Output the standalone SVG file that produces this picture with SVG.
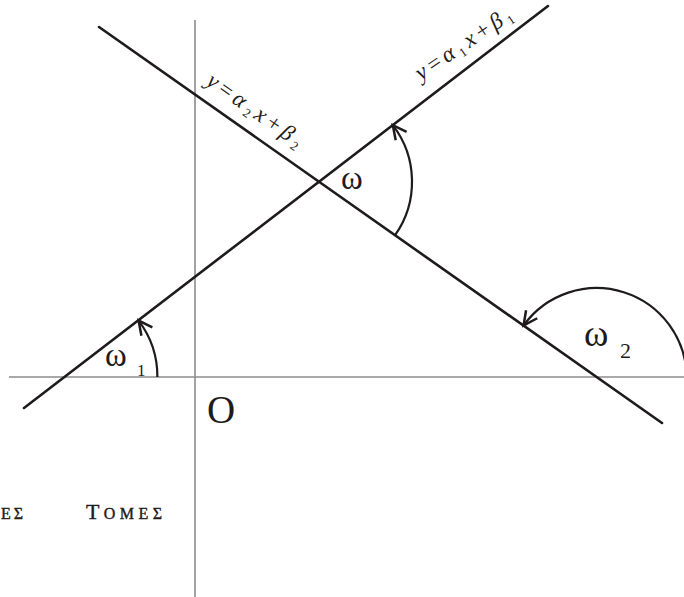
<svg xmlns="http://www.w3.org/2000/svg" width="684" height="597" viewBox="0 0 684 597">
<style>
.axis{stroke:#8c8c8c;stroke-width:1.6;fill:none}
.line{stroke:#1f1b1c;stroke-width:2.6;fill:none;stroke-linecap:round}
.arc{stroke:#1f1b1c;stroke-width:2.2;fill:none;marker-end:url(#arr)}
.t{font-family:"Liberation Serif","Times New Roman",serif;fill:#1f1b1c}
.lbl{font-family:"Liberation Serif","Times New Roman",serif;font-style:italic;fill:#1f1b1c;font-size:23px}
.sub{font-size:13px;font-style:normal}
.cap{font-family:"Liberation Serif","Times New Roman",serif;fill:#1f1b1c;stroke:#1f1b1c;stroke-width:0.4}
</style>
<defs>
<marker id="arr" markerUnits="userSpaceOnUse" markerWidth="20" markerHeight="20" refX="0" refY="0" viewBox="-14 -8 16 16" orient="auto" overflow="visible">
<path d="M -11 -5.5 L 0 0 L -11 5.5" fill="none" stroke="#1f1b1c" stroke-width="2"/>
</marker>
</defs>
<g id="axes">
<line class="axis" x1="9" y1="377" x2="684" y2="377"/>
<line class="axis" x1="195" y1="20" x2="195" y2="597"/>
</g>
<g id="connectors">
<line id="line1" class="line" x1="24" y1="408" x2="548" y2="6"/>
<line id="line2" class="line" x1="99" y1="27" x2="662" y2="423"/>
<path id="arc-w1" class="arc" d="M 157.4 377 A 93 93 0 0 0 138.6 320.6"/>
<path id="arc-w" class="arc" d="M 395.1 235.2 A 93 93 0 0 0 392.8 125.1"/>
<path id="arc-w2" class="arc" d="M 686.6 377 A 90 90 0 0 0 523.6 325.4"/>
</g>
<g id="label-line1">
<text class="lbl" transform="translate(421,81) rotate(-34)" textLength="112" lengthAdjust="spacing">y<tspan font-style="normal">=</tspan>α<tspan class="sub" dy="4">1</tspan><tspan dy="-4">x</tspan><tspan font-style="normal">+</tspan>β<tspan class="sub" dy="4">1</tspan></text>
</g>
<g id="label-line2">
<text class="lbl" transform="translate(205,84) rotate(35)" textLength="112" lengthAdjust="spacing">y<tspan font-style="normal">=</tspan>α<tspan class="sub" dy="4">2</tspan><tspan dy="-4">x</tspan><tspan font-style="normal">+</tspan>β<tspan class="sub" dy="4">2</tspan></text>
</g>
<g id="omega">
<text class="t" x="341" y="189" font-size="33">ω</text>
</g>
<g id="omega1">
<text class="t" x="105" y="366" font-size="33">ω</text>
<text class="t" x="137" y="376" font-size="17">1</text>
</g>
<g id="omega2">
<text class="t" x="584" y="346" font-size="37">ω</text>
<text class="t" x="620" y="358" font-size="22">2</text>
</g>
<g id="origin">
<text class="t" x="207" y="423" font-size="39">O</text>
</g>
<g id="caption">
<text class="cap" x="1" y="519" font-size="16" letter-spacing="3">ΕΣ</text>
<text class="cap" x="86" y="519" textLength="76" lengthAdjust="spacing"><tspan font-size="22">Τ</tspan><tspan font-size="16">ΟΜΕΣ</tspan></text>
</g>
</svg>
